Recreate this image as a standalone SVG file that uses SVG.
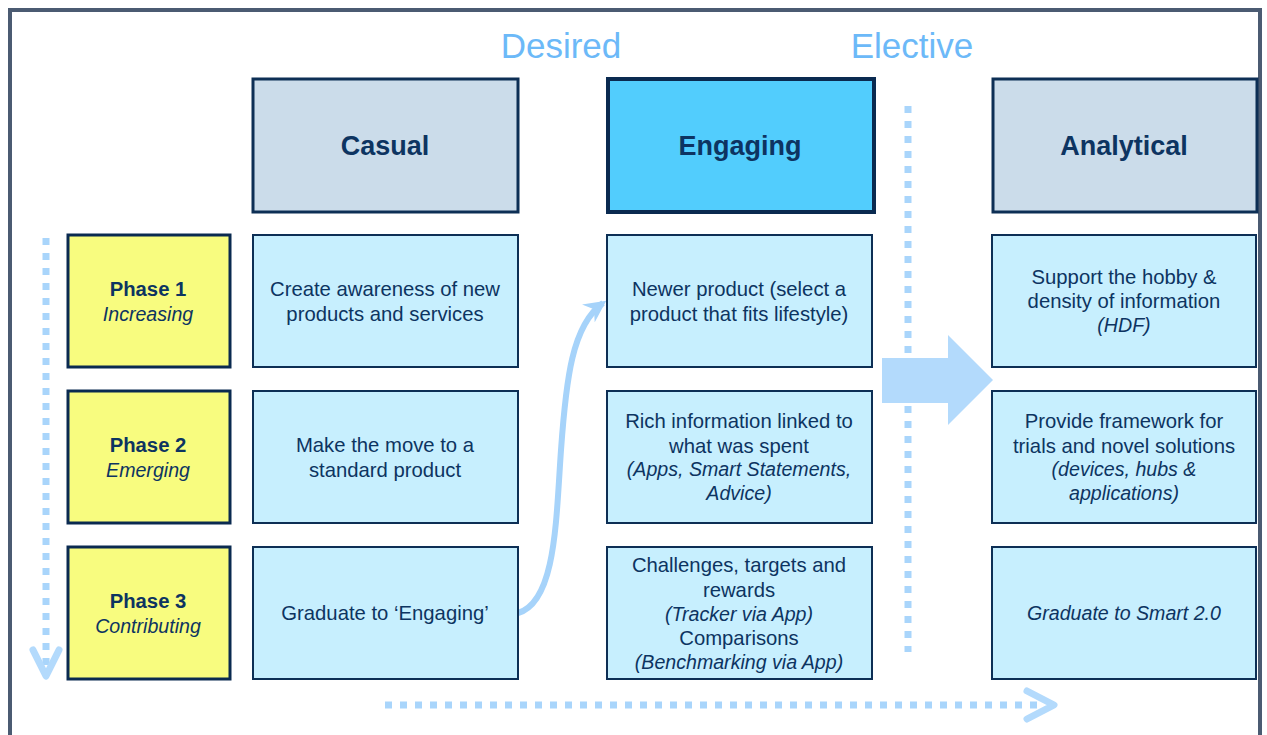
<svg xmlns="http://www.w3.org/2000/svg" width="1267" height="735" viewBox="0 0 1267 735">
<defs>
<style>
.t{font-family:"Liberation Sans",Arial,sans-serif;fill:#0d3461;text-anchor:middle;font-size:20.3px}
.i{font-style:italic;font-size:19.6px}
.b{font-weight:bold}
.h{font-family:"Liberation Sans",Arial,sans-serif;font-weight:bold;font-size:27px;fill:#0d3461;text-anchor:middle}
.lab{font-family:"Liberation Sans",Arial,sans-serif;font-size:35px;fill:#6cb9f8;text-anchor:middle}
.cell{fill:#c7effe;stroke:#0d2f55;stroke-width:2}
.ph{fill:#f8fc7f;stroke:#0a2a50;stroke-width:3}
.hd{fill:#cbdcea;stroke:#0d2f55;stroke-width:3}
.dot{stroke:#a9d5fb;stroke-width:7;stroke-dasharray:7 8;fill:none}
.chev{stroke:#b3dafc;stroke-width:7;fill:none;stroke-linecap:round;stroke-linejoin:round}
</style>
<marker id="ah" viewBox="0 0 22 22" refX="18" refY="11" markerWidth="22" markerHeight="22" markerUnits="userSpaceOnUse" orient="auto">
<path d="M22,11 L0,0 L7,11 L0,22 Z" fill="#a6d3fa"/>
</marker>
</defs>
<rect x="0" y="0" width="1267" height="735" fill="#ffffff"/>
<rect x="10" y="10" width="1250" height="740" fill="none" stroke="#4b5b72" stroke-width="4"/>

<text class="lab" x="561" y="58">Desired</text>
<text class="lab" x="912" y="58">Elective</text>

<g id="connectors">
<line class="dot" x1="46" y1="238" x2="46" y2="670"/>
<polyline class="chev" points="33,650 46,676 59,650"/>
<line class="dot" x1="908" y1="106" x2="908" y2="652"/>
<line class="dot" x1="385" y1="705" x2="1045" y2="705"/>
<polyline class="chev" points="1027,691 1054,705 1027,719"/>
<path d="M518,613 C556,602 556,520 561,450 C566,380 572,325 603,303" fill="none" stroke="#a6d3fa" stroke-width="6" marker-end="url(#ah)"/>
<polygon points="882,358 948,358 948,335 993,380 948,425 948,403 882,403" fill="#b3dafc"/>
</g>

<g id="h-casual"><rect class="hd" x="253" y="79" width="265" height="133"/><text class="h" x="385" y="155">Casual</text></g>
<g id="h-engaging"><rect x="608" y="79" width="266" height="133" fill="#52cdfd" stroke="#0a2a50" stroke-width="4"/><text class="h" x="740" y="155">Engaging</text></g>
<g id="h-analytical"><rect class="hd" x="993" y="79" width="264" height="133"/><text class="h" x="1124" y="155">Analytical</text></g>

<g id="phase1"><rect class="ph" x="68" y="235" width="162" height="132"/><text class="t b" x="148" y="296">Phase 1</text><text class="t i" x="148" y="321">Increasing</text></g>
<g id="phase2"><rect class="ph" x="68" y="391" width="162" height="132"/><text class="t b" x="148" y="452">Phase 2</text><text class="t i" x="148" y="477">Emerging</text></g>
<g id="phase3"><rect class="ph" x="68" y="547" width="162" height="132"/><text class="t b" x="148" y="608">Phase 3</text><text class="t i" x="148" y="633">Contributing</text></g>

<g id="c1"><rect class="cell" x="253" y="235" width="265" height="132"/><text class="t" x="385" y="296">Create awareness of new</text><text class="t" x="385" y="321">products and services</text></g>
<g id="c2"><rect class="cell" x="253" y="391" width="265" height="132"/><text class="t" x="385" y="452">Make the move to a</text><text class="t" x="385" y="477">standard product</text></g>
<g id="c3"><rect class="cell" x="253" y="547" width="265" height="132"/><text class="t" x="385" y="620">Graduate to ‘Engaging’</text></g>

<g id="e1"><rect class="cell" x="607" y="235" width="265" height="132"/><text class="t" x="739" y="296">Newer product (select a</text><text class="t" x="739" y="321">product that fits lifestyle)</text></g>
<g id="e2"><rect class="cell" x="607" y="391" width="265" height="132"/><text class="t" x="739" y="428">Rich information linked to</text><text class="t" x="739" y="453">what was spent</text><text class="t i" x="739" y="476">(Apps, Smart Statements,</text><text class="t i" x="739" y="500">Advice)</text></g>
<g id="e3"><rect class="cell" x="607" y="547" width="265" height="132"/><text class="t" x="739" y="572">Challenges, targets and</text><text class="t" x="739" y="597">rewards</text><text class="t i" x="739" y="621">(Tracker via App)</text><text class="t" x="739" y="645">Comparisons</text><text class="t i" x="739" y="669">(Benchmarking via App)</text></g>

<g id="a1"><rect class="cell" x="992" y="235" width="264" height="132"/><text class="t" x="1124" y="284">Support the hobby &amp;</text><text class="t" x="1124" y="308">density of information</text><text class="t i" x="1124" y="332">(HDF)</text></g>
<g id="a2"><rect class="cell" x="992" y="391" width="264" height="132"/><text class="t" x="1124" y="428">Provide framework for</text><text class="t" x="1124" y="453">trials and novel solutions</text><text class="t i" x="1124" y="476">(devices, hubs &amp;</text><text class="t i" x="1124" y="500">applications)</text></g>
<g id="a3"><rect class="cell" x="992" y="547" width="264" height="132"/><text class="t i" x="1124" y="620">Graduate to Smart 2.0</text></g>
</svg>
